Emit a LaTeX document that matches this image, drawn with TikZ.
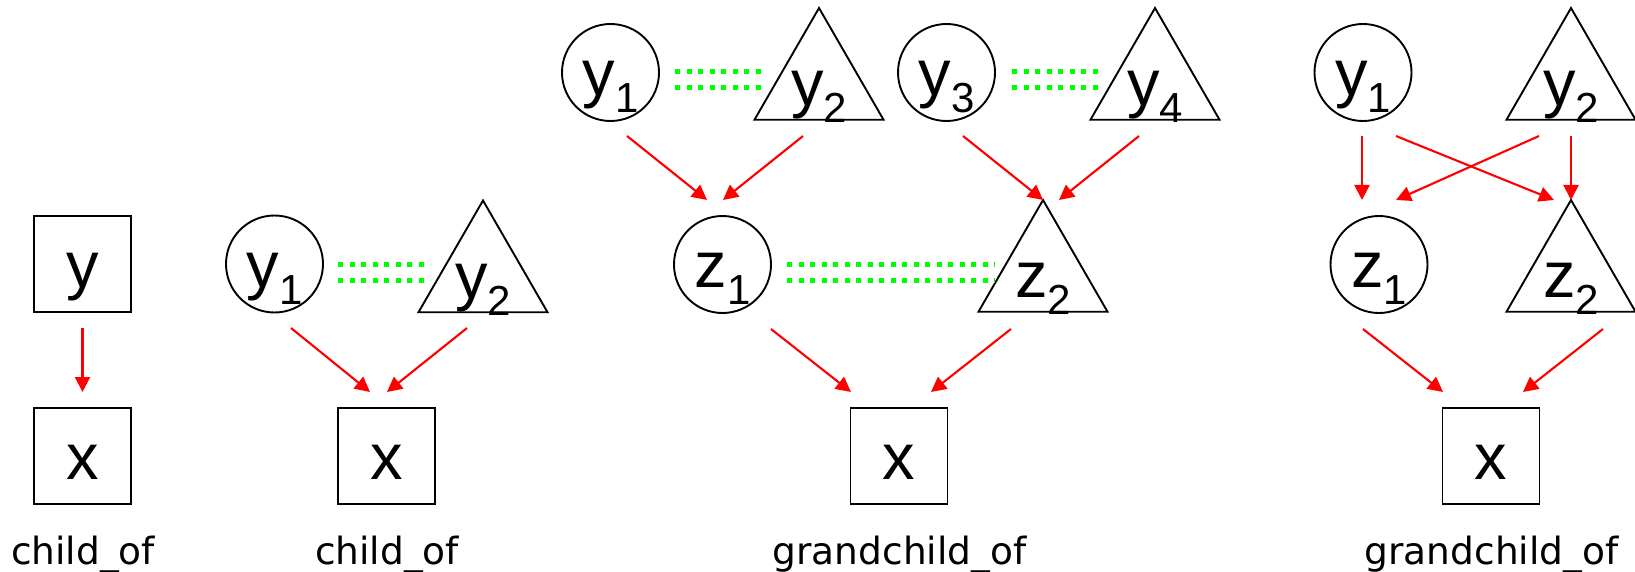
\documentclass[tikz,border=0pt]{standalone}
\usepackage{fontspec}
\setmainfont{Liberation Sans}
\newfontfamily\labfont{DejaVu Sans}
\usetikzlibrary{arrows.meta,shapes.geometric}
\newcommand{\sbs}[2]{\makebox[0pt]{#1\raisebox{-17pt}{\fontsize{42}{42}\selectfont #2}}}
\tikzset{
  shp/.style={draw=black, line width=1.9pt, inner sep=0pt, outer sep=0pt,
    font=\fontsize{65}{65}\selectfont, text height=46pt, text depth=0pt},
  boxnode/.style={shp, rectangle, minimum width=97pt, minimum height=96pt},
  circnode/.style={shp, circle, minimum size=97pt},
  trinode/.style={shp, regular polygon, regular polygon sides=3, minimum size=149pt},
  rel/.style={draw=red, line width=2.1pt, -{Triangle[length=15pt,width=15pt]}},
  eqv/.style={draw=green, line width=5pt, dash pattern=on 5pt off 6.5pt},
  caption/.style={font=\labfont\fontsize{37.5}{37.5}\selectfont, anchor=base, inner sep=0pt}
}
\begin{document}
\begin{tikzpicture}[x=1pt,y=-1pt]
\useasboundingbox (0,0) rectangle (1635,572);

% Panel 1
\node[boxnode] (p1y) at (82.5,264) {y};
\node[boxnode] (p1x) at (82.5,456) {x};
\draw[rel] ([shift={(0,64)}]p1y.center) -- ([shift={(0,-64)}]p1x.center);
\node[caption] (c1) at (83,564) {child\_of};

% Panel 2
\node[circnode] (p2y1) at (274.5,264) {\sbs{y}{1}};
\node[trinode] (p2y2) at (483,275) {\sbs{y}{2}};
\node[boxnode] (p2x) at (386.5,456) {x};
\draw[eqv] ([shift={(63.5,0)}]p2y1.center) -- ([shift={(-53,-11)}]p2y2.center);
\draw[eqv] ([shift={(63.5,16)}]p2y1.center) -- ([shift={(-53,5)}]p2y2.center);
\draw[rel] ([shift={(16.5,64)}]p2y1.center) -- ([shift={(-16.5,-64)}]p2x.center);
\draw[rel] ([shift={(-16,53)}]p2y2.center) -- ([shift={(0.5,-64)}]p2x.center);
\node[caption] (c2) at (387,564) {child\_of};

% Panel 3
\node[circnode] (p3y1) at (610.5,72.5) {\sbs{y}{1}};
\node[trinode] (p3y2) at (819,82.5) {\sbs{y}{2}};
\node[circnode] (p3y3) at (946.5,72.5) {\sbs{y}{3}};
\node[trinode] (p3y4) at (1155,82.5) {\sbs{y}{4}};
\node[circnode] (p3z1) at (722.5,264.5) {\sbs{z}{1}};
\node[trinode] (p3z2) at (1043,274.5) {\sbs{z}{2}};
\node[boxnode] (p3x) at (899,456) {x};
\draw[eqv] ([shift={(64.5,-0.5)}]p3y1.center) -- ([shift={(-53,-10.5)}]p3y2.center);
\draw[eqv] ([shift={(64.5,15.5)}]p3y1.center) -- ([shift={(-53,5.5)}]p3y2.center);
\draw[eqv] ([shift={(65.5,-0.5)}]p3y3.center) -- ([shift={(-53,-10.5)}]p3y4.center);
\draw[eqv] ([shift={(65.5,15.5)}]p3y3.center) -- ([shift={(-53,5.5)}]p3y4.center);
\draw[eqv] ([shift={(64.5,-0.5)}]p3z1.center) -- ([shift={(-48,-10.5)}]p3z2.center);
\draw[eqv] ([shift={(64.5,15.5)}]p3z1.center) -- ([shift={(-48,5.5)}]p3z2.center);
\draw[rel] ([shift={(16.5,63.5)}]p3y1.center) -- ([shift={(-15.5,-64.5)}]p3z1.center);
\draw[rel] ([shift={(-16,53.5)}]p3y2.center) -- ([shift={(0.5,-64.5)}]p3z1.center);
\draw[rel] ([shift={(16.5,63.5)}]p3y3.center) -- ([shift={(0,-74.5)}]p3z2.center);
\draw[rel] ([shift={(-16,53.5)}]p3y4.center) -- ([shift={(16,-74.5)}]p3z2.center);
\draw[rel] ([shift={(48.5,64.5)}]p3z1.center) -- ([shift={(-48,-64)}]p3x.center);
\draw[rel] ([shift={(-32,54.5)}]p3z2.center) -- ([shift={(32,-64)}]p3x.center);
\node[caption] (c3) at (899.5,564) {grandchild\_of};

% Panel 4
\node[circnode] (p4y1) at (1363,72.5) {\sbs{y}{1}};
\node[trinode] (p4y2) at (1571,82.5) {\sbs{y}{2}};
\node[circnode] (p4z1) at (1379,264.5) {\sbs{z}{1}};
\node[trinode] (p4z2) at (1571,274.5) {\sbs{z}{2}};
\node[boxnode] (p4x) at (1491,456) {x};
\draw[rel] ([shift={(-1,63.5)}]p4y1.center) -- ([shift={(-17,-64.5)}]p4z1.center);
\draw[rel] ([shift={(33,63.5)}]p4y1.center) -- ([shift={(-17,-74.5)}]p4z2.center);
\draw[rel] ([shift={(-32,53.5)}]p4y2.center) -- ([shift={(17,-64.5)}]p4z1.center);
\draw[rel] ([shift={(0,53.5)}]p4y2.center) -- ([shift={(0,-74.5)}]p4z2.center);
\draw[rel] ([shift={(-16,64.5)}]p4z1.center) -- ([shift={(-48,-64)}]p4x.center);
\draw[rel] ([shift={(32,54.5)}]p4z2.center) -- ([shift={(32,-64)}]p4x.center);
\node[caption] (c4) at (1491.5,564) {grandchild\_of};
\end{tikzpicture}
\end{document}
